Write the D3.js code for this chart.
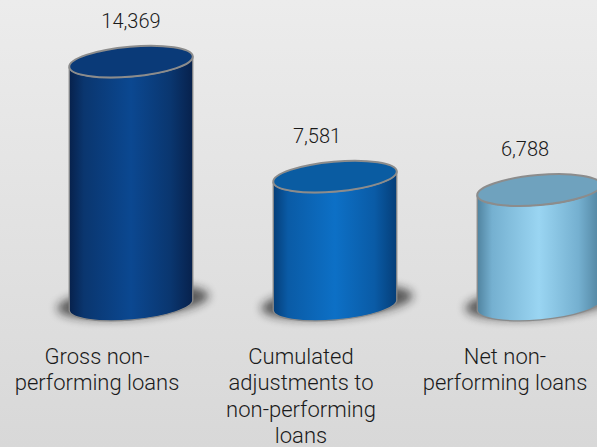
<!DOCTYPE html>
<html>
<head>
<meta charset="utf-8">
<script src="https://cdn.jsdelivr.net/npm/d3@7"></script>
<style>
  html, body { margin: 0; padding: 0; overflow: hidden; }
  svg { display: block; }
</style>
</head>
<body>
<svg id="chart" width="597" height="447"></svg>
<script>
// Non-performing loans (amounts)
const categories = [
  "Gross non-\nperforming loans",
  "Cumulated\nadjustments to\nnon-performing\nloans",
  "Net non-\nperforming loans"
];
const values = [14369, 7581, 6788];
const valueLabels = ["14,369", "7,581", "6,788"];

// Colour per cylinder: [edge, side, highlight, top cap]
const palettes = [
  ["#07214c", "#0a366f", "#0b4891", "#0a3a78"],
  ["#053e78", "#0a5ba6", "#0d70c6", "#0a5ca2"],
  ["#50839f", "#75b0d0", "#9ad5f2", "#6fa2be"]
];

const W = 597, H = 447;
const svg = d3.select("#chart");
const defs = svg.append("defs");

// Background
const bg = defs.append("linearGradient").attr("id", "bg")
  .attr("x1", 0).attr("y1", 0).attr("x2", 0).attr("y2", 1);
bg.append("stop").attr("offset", "0%").attr("stop-color", "#ececec");
bg.append("stop").attr("offset", "100%").attr("stop-color", "#d8d8d8");
svg.append("rect").attr("width", W).attr("height", H).attr("fill", "url(#bg)");

// Shadow blur
defs.append("filter").attr("id", "soft")
  .attr("x", "-50%").attr("y", "-100%").attr("width", "200%").attr("height", "300%")
  .append("feGaussianBlur").attr("stdDeviation", 5);

palettes.forEach((p, i) => {
  const g = defs.append("linearGradient").attr("id", "side" + i)
    .attr("x1", 0).attr("y1", 0).attr("x2", 1).attr("y2", 0);
  [[0, p[0]], [0.12, p[1]], [0.5, p[2]], [0.82, p[1]], [1, p[0]]].forEach(([o, c]) =>
    g.append("stop").attr("offset", o).attr("stop-color", c));
});

// Scales
const x = d3.scalePoint().domain(categories).range([131, 539]);
const y = d3.scaleLinear().domain([0, 16000]).range([305, 34]);

const rx = 62, ry = 15, tilt = -5;
const dx = rx * Math.cos(tilt * Math.PI / 180);
const dy = rx * Math.sin(-tilt * Math.PI / 180);

function bodyPath(cx, top, base) {
  return `M${cx - dx},${top + dy} L${cx - dx},${base + dy} ` +
    `A${rx},${ry} ${tilt} 0 0 ${cx + dx},${base - dy} ` +
    `L${cx + dx},${top - dy} ` +
    `A${rx},${ry} ${tilt} 0 1 ${cx - dx},${top + dy} Z`;
}

const data = categories.map((c, i) => ({ cat: c, value: values[i], label: valueLabels[i], i }));

const cyl = svg.append("g").selectAll("g").data(data).join("g");

// Ground shadow
cyl.append("ellipse")
  .attr("cx", d => x(d.cat) + 2)
  .attr("cy", y(0) - 3)
  .attr("rx", rx + 14).attr("ry", ry + 1)
  .attr("transform", d => `rotate(${tilt},${x(d.cat) + 2},${y(0) - 3})`)
  .attr("fill", "#1a1a1a").attr("opacity", 0.7)
  .attr("filter", "url(#soft)");

// Cylinder side
cyl.append("path")
  .attr("d", d => bodyPath(x(d.cat), y(d.value), y(0)))
  .attr("fill", d => `url(#side${d.i})`)
  .attr("stroke", "#8a8a8a").attr("stroke-width", 1.3);

// Top cap
cyl.append("ellipse")
  .attr("cx", d => x(d.cat)).attr("cy", d => y(d.value))
  .attr("rx", rx).attr("ry", ry)
  .attr("transform", d => `rotate(${tilt},${x(d.cat)},${y(d.value)})`)
  .attr("fill", d => palettes[d.i][3])
  .attr("stroke", "#8c8c8c").attr("stroke-width", 2);

// Value labels
const labelShift = [0, -18, -14];
svg.append("g").selectAll("text").data(data).join("text")
  .attr("x", d => x(d.cat) + labelShift[d.i])
  .attr("y", d => y(d.value) - 34)
  .attr("text-anchor", "middle")
  .attr("font-family", "Roboto, sans-serif")
  .attr("font-weight", 300)
  .attr("font-size", 20)
  .attr("fill", "#1a1a1a")
  .text(d => d.label);

// Category labels
const catG = svg.append("g").selectAll("text").data(data).join("text")
  .attr("x", d => x(d.cat) - 34)
  .attr("y", 364)
  .attr("text-anchor", "middle")
  .attr("font-family", "Roboto, sans-serif")
  .attr("font-weight", 300)
  .attr("font-size", 22)
  .attr("fill", "#1a1a1a");
catG.selectAll("tspan").data(d => d.cat.split("\n").map(t => ({ t, x: x(d.cat) - 34 })))
  .join("tspan")
  .attr("x", t => t.x)
  .attr("dy", (t, j) => j === 0 ? 0 : 26.3)
  .text(t => t.t);
</script>
</body>
</html>
